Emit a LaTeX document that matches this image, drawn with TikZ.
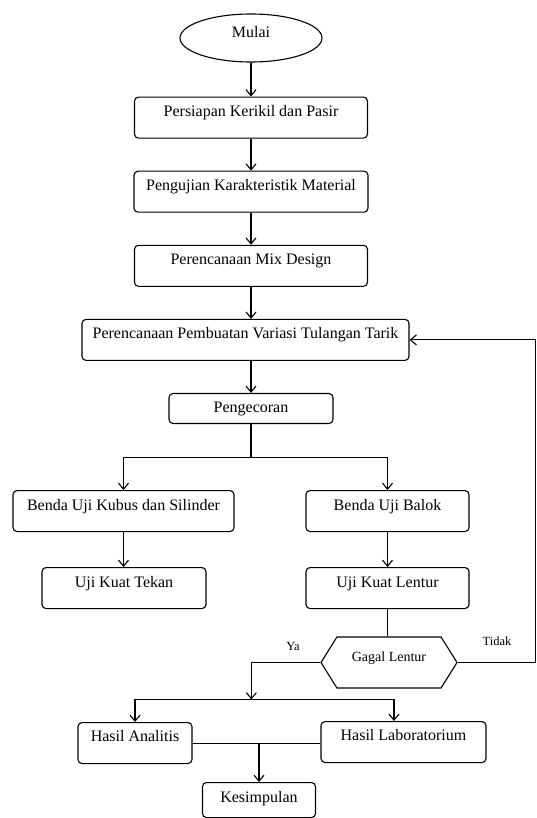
\documentclass[tikz,border=0pt]{standalone}
\usepackage{fontspec}
\setmainfont{Liberation Serif}
\usetikzlibrary{positioning, shapes.geometric, shapes.symbols, arrows.meta}
\tikzstyle{stepbox} = [rectangle, rounded corners=4pt, draw=black, line width=1.1pt,
  inner xsep=2pt, inner ysep=8pt, text height=11pt, text depth=14pt,
  minimum height=41pt, text centered, font=\fontsize{16pt}{18pt}\selectfont]
\tikzstyle{startstop} = [ellipse, draw=black, line width=1.1pt,
  minimum width=142pt, minimum height=48pt, inner sep=1pt,
  text height=11pt, text depth=11pt, font=\fontsize{16pt}{18pt}\selectfont]
\tikzstyle{decision} = [signal, signal to=west and east, signal pointer angle=116,
  draw=black, line width=1.1pt, minimum width=136pt, minimum height=51pt,
  inner ysep=8pt, text height=10pt, text depth=13pt, font=\fontsize{14pt}{16pt}\selectfont]
\tikzstyle{answer} = [font=\fontsize{12.5pt}{14pt}\selectfont]
\tikzstyle{arrow} = [->, line width=1.1pt]
\tikzstyle{line} = [line width=1.1pt]

\begin{document}
\begin{tikzpicture}[
    x=1pt, y=-1pt,
    >={Straight Barb[length=6pt,width=10pt]},
    node distance=32pt, % gap between the boxes of the main column
  ]
    \useasboundingbox (0,0) rectangle (537,818);

    \node[startstop] (mulai) at (251,38) {Mulai};
    \node[stepbox, minimum width=233pt, below=34pt of mulai] (persiapan) {Persiapan Kerikil dan Pasir};
    \node[stepbox, minimum width=234pt, below=of persiapan] (karakteristik) {Pengujian Karakteristik Material};
    \node[stepbox, minimum width=233pt, below=of karakteristik] (mixdesign) {Perencanaan Mix Design};
    \node[stepbox, minimum width=327pt, below=of mixdesign, xshift=-5.5pt] (tulangan) {Perencanaan Pembuatan Variasi Tulangan Tarik};
    \node[stepbox, minimum width=164pt, minimum height=30pt, text depth=3pt,
          below=of tulangan, xshift=5.5pt] (pengecoran) {Pengecoran};

    \node[stepbox, anchor=north, minimum width=221pt, text depth=13pt] (kubus) at (123.5,490) {Benda Uji Kubus dan Silinder};
    \node[stepbox, anchor=north, minimum width=163pt, text depth=13pt] (balok) at (387.5,490) {Benda Uji Balok};
    \node[stepbox, anchor=north, minimum width=164pt, text depth=12pt] (tekan) at (124,567) {Uji Kuat Tekan};
    \node[stepbox, anchor=north, minimum width=163pt, text depth=12pt] (lentur) at (387.5,567) {Uji Kuat Lentur};

    \node[decision] (gagal) at (389,662.5) {Gagal Lentur};
    \node[answer] (ya) at (293,646) {Ya};
    \node[answer] (tidak) at (497,641) {Tidak};

    \node[stepbox, anchor=north, minimum width=114pt] (analitis) at (135,722) {Hasil Analitis};
    \node[stepbox, anchor=north, minimum width=165pt] (laboratorium) at (403.5,721) {Hasil Laboratorium};
    \node[stepbox, anchor=north, minimum width=113pt, minimum height=35pt, text depth=6pt] (kesimpulan) at (259,782) {Kesimpulan};

    \draw[arrow] (mulai) -- (persiapan);
    \draw[arrow] (persiapan) -- (karakteristik);
    \draw[arrow] (karakteristik) -- (mixdesign);
    \draw[arrow] (mixdesign.south) -- (mixdesign.south |- tulangan.north);
    \draw[arrow] (tulangan.south -| pengecoran.north) -- (pengecoran.north);

    \draw[line] (pengecoran.south) -- ++(0,33) coordinate (cabang);
    \draw[arrow] (cabang) -| (kubus.north);
    \draw[arrow] (cabang) -| (balok.north);
    \draw[arrow] (kubus.south) -- (kubus.south |- tekan.north);
    \draw[arrow] (balok) -- (lentur);
    \draw[line] (lentur.south) -- (lentur.south |- gagal.north);

    \draw[arrow] (gagal.west) -| ++(-69,37) coordinate (hasil);
    \draw[arrow] (hasil) -| (analitis.north);
    \draw[arrow] (hasil) -| ([xshift=-9.5pt]laboratorium.north);
    \draw[arrow] (gagal.east) -- ++(78,0) |- (tulangan.east);

    \draw[line] (analitis.east) -- (analitis.east -| laboratorium.west);
    \draw[arrow] (kesimpulan.north |- analitis.east) -- (kesimpulan.north);
  \end{tikzpicture}
\end{document}
